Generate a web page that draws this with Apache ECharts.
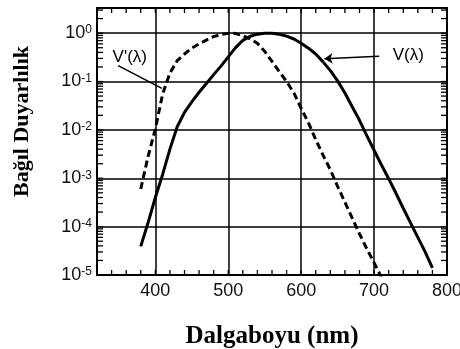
<!DOCTYPE html>
<html>
<head>
<meta charset="utf-8">
<script src="https://cdn.jsdelivr.net/npm/echarts@6/dist/echarts.min.js"></script>
<style>
    html, body { margin: 0; padding: 0; background: #fff; }
    #chart { width: 460px; height: 349px; }
</style>
</head>
<body>
<div id="chart"></div>
<script>
// 明视觉 V(λ)：波长 / 相对灵敏度
const photopicWl = [380, 390, 400, 410, 420, 430, 440, 450, 460, 470, 480, 490, 500, 510, 520, 530, 540, 550, 555,
    560, 570, 580, 590, 600, 610, 620, 630, 640, 650, 660, 670, 680, 690, 700, 710, 720, 730, 740, 750, 760, 770, 780];
const photopicVal = [3.9e-5, 1.2e-4, 4.0e-4, 1.2e-3, 4.0e-3, 1.16e-2, 2.3e-2, 3.8e-2, 6.0e-2, 9.1e-2, 0.139, 0.208,
    0.323, 0.503, 0.71, 0.862, 0.954, 0.995, 1.0, 0.995, 0.952, 0.87, 0.757, 0.62, 0.49, 0.37, 0.255, 0.168, 0.103,
    0.058, 0.030, 0.0158, 0.0076, 0.0038, 0.0019, 0.00098, 0.00049, 0.00024, 0.00012, 6.0e-5, 3.0e-5, 1.4e-5];

// 暗视觉 V'(λ)
const scotopicWl = [380, 390, 400, 410, 420, 430, 440, 450, 460, 470, 480, 490, 500, 505, 510, 520, 530, 540, 550,
    560, 570, 580, 590, 600, 610, 620, 630, 640, 650, 660, 670, 680, 690, 700, 710];
const scotopicVal = [6.0e-4, 2.8e-3, 1.05e-2, 5.5e-2, 0.15, 0.27, 0.37, 0.49, 0.60, 0.72, 0.85, 0.94, 0.99, 1.0,
    0.98, 0.89, 0.76, 0.62, 0.42, 0.26, 0.16, 0.10, 0.058, 0.028, 0.014, 6.3e-3, 3.0e-3, 1.5e-3, 6.8e-4, 3.2e-4,
    1.5e-4, 7.1e-5, 3.5e-5, 1.8e-5, 9.0e-6];

// 坐标轴刻度
const xLabels = [400, 500, 600, 700, 800];
const xGrid = [400, 500, 600, 700];
const decades = [-5, -4, -3, -2, -1, 0];
const yGrid = [-4, -3, -2, -1, 0];

const X_MIN = 320;
const X_MAX = 800;
const X_TICK_STEP = 20;
const Y_MIN = -5;
const Y_MAX = 0.52;

// x 方向刻度，每 20 nm 一个
let xTicks = [];
for (let v = X_MIN + X_TICK_STEP; v < X_MAX; v += X_TICK_STEP) {
    xTicks.push(v);
}

// 对数坐标的次刻度 (1..9 × 10^n)
let yTicks = [];
for (let i = 0; i < decades.length; i++) {
    for (let k = 1; k <= 9; k++) {
        let v = decades[i] + Math.log10(k);
        if (v > Y_MIN && v < Y_MAX) {
            yTicks.push(v);
        }
    }
}

let toLog = function (wl, vals) {
    let out = [];
    for (let i = 0; i < wl.length; i++) {
        out.push([wl[i], Math.log10(vals[i])]);
    }
    return out;
};

// 刻度数据：[值, 边] 0下 1上 2左 3右
let tickData = [];
for (let i = 0; i < xTicks.length; i++) {
    tickData.push([xTicks[i], 0]);
    tickData.push([xTicks[i], 1]);
}
for (let i = 0; i < yTicks.length; i++) {
    tickData.push([yTicks[i], 2]);
    tickData.push([yTicks[i], 3]);
}

const black = '#000';
const sansFont = 'Liberation Sans';
const serifFont = 'Liberation Serif';

// 向内的刻度线
let renderTick = function (params, api) {
    let v = api.value(0);
    let side = api.value(1);
    let p, q;
    if (side === 0) {
        p = api.coord([v, Y_MIN]);
        q = [p[0], p[1] - 5];
    } else if (side === 1) {
        p = api.coord([v, Y_MAX]);
        q = [p[0], p[1] + 5];
    } else if (side === 2) {
        p = api.coord([X_MIN, v]);
        q = [p[0] + 6, p[1]];
    } else {
        p = api.coord([X_MAX, v]);
        q = [p[0] - 6, p[1]];
    }
    return {
        type: 'line',
        shape: { x1: p[0], y1: p[1], x2: q[0], y2: q[1] },
        style: { stroke: black, lineWidth: 1.3 }
    };
};

let xAxisBase = function (position) {
    return {
        type: 'value',
        position: position,
        min: X_MIN,
        max: X_MAX,
        interval: X_TICK_STEP,
        axisLine: { show: true, onZero: false, lineStyle: { color: black, width: 2 } },
        axisTick: { show: false },
        splitLine: { show: false },
        axisLabel: { show: false }
    };
};

let yAxisBase = function (position) {
    return {
        type: 'value',
        position: position,
        min: Y_MIN,
        max: Y_MAX,
        axisLine: { show: true, onZero: false, lineStyle: { color: black, width: 2 } },
        axisTick: { show: false },
        splitLine: { show: false },
        axisLabel: { show: false }
    };
};

let xBottom = xAxisBase('bottom');
xBottom.axisLabel = {
    show: true,
    customValues: xLabels,
    margin: 7,
    color: '#111',
    fontFamily: sansFont,
    fontSize: 18
};
xBottom.name = 'Dalgaboyu (nm)';
xBottom.nameLocation = 'middle';
xBottom.nameGap = 49;
xBottom.nameTextStyle = { fontFamily: serifFont, fontWeight: 'bold', fontSize: 25, color: black };

let yLeft = yAxisBase('left');
yLeft.axisLabel = {
    show: true,
    customValues: decades,
    margin: 5,
    formatter: function (value) {
        return '{b|10}{s|' + Math.round(value) + '}';
    },
    rich: {
        b: { fontFamily: sansFont, fontSize: 18, color: '#111' },
        s: { fontFamily: sansFont, fontSize: 12, color: '#111', verticalAlign: 'top' }
    }
};
yLeft.name = 'Bağıl Duyarlılık';
yLeft.nameLocation = 'middle';
yLeft.nameGap = 64;
yLeft.nameTextStyle = { fontFamily: serifFont, fontWeight: 'bold', fontSize: 22, color: black, padding: [0, 0, 0, 40] };

// 网格线
let gridLines = [];
for (let i = 0; i < xGrid.length; i++) {
    gridLines.push({ xAxis: xGrid[i] });
}
for (let i = 0; i < yGrid.length; i++) {
    gridLines.push({ yAxis: yGrid[i] });
}

let option = {
    animation: false,
    backgroundColor: '#fff',
    grid: { left: 97, right: 13, top: 8, bottom: 74, containLabel: false, outerBoundsMode: 'none' },
    xAxis: [xBottom, xAxisBase('top')],
    yAxis: [yLeft, yAxisBase('right')],
    series: [{
        type: 'custom',
        name: 'ticks',
        silent: true,
        clip: false,
        renderItem: renderTick,
        encode: { x: 0 },
        data: tickData,
        z: 1
    }, {
        type: 'line',
        name: 'V(λ)',
        data: toLog(photopicWl, photopicVal),
        showSymbol: false,
        symbol: 'none',
        clip: true,
        lineStyle: { color: black, width: 3 },
        markLine: {
            silent: true,
            symbol: 'none',
            label: { show: false },
            lineStyle: { color: black, width: 1.5, type: 'solid' },
            data: gridLines.concat([
                [{ coord: [707, -0.48], symbol: 'none' }, { coord: [632, -0.53], symbol: 'arrow', symbolSize: 8 }]
            ])
        },
        markPoint: {
            silent: true,
            symbol: 'circle',
            symbolSize: 1,
            itemStyle: { color: 'transparent' },
            label: { show: true, position: 'inside', color: black, fontFamily: sansFont, fontSize: 17, formatter: 'V(λ)' },
            data: [{ coord: [747, -0.46] }]
        }
    }, {
        type: 'line',
        name: "V'(λ)",
        data: toLog(scotopicWl, scotopicVal),
        showSymbol: false,
        symbol: 'none',
        clip: true,
        lineStyle: { color: black, width: 3, type: [7, 4] },
        markLine: {
            silent: true,
            symbol: 'none',
            label: { show: false },
            lineStyle: { color: black, width: 1.5, type: 'solid' },
            data: [
                [{ coord: [349, -0.67] }, { coord: [409, -1.14] }]
            ]
        },
        markPoint: {
            silent: true,
            symbol: 'circle',
            symbolSize: 1,
            itemStyle: { color: 'transparent' },
            label: { show: true, position: 'inside', color: black, fontFamily: sansFont, fontSize: 17, formatter: "V'(λ)" },
            data: [{ coord: [365, -0.5] }]
        }
    }]
};

let chart = echarts.init(document.getElementById('chart'));
chart.setOption(option);
</script>
</body>
</html>
